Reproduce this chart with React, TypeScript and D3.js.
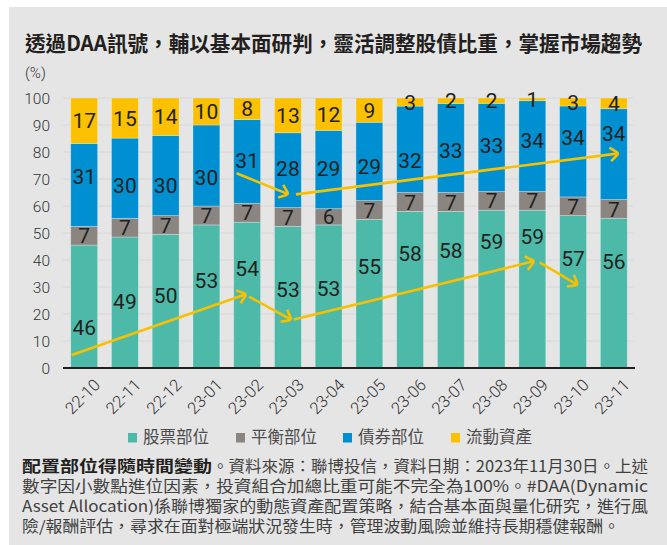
import React from 'react';
import * as d3 from 'd3';

const categories = ['22-10','22-11','22-12','23-01','23-02','23-03','23-04','23-05','23-06','23-07','23-08','23-09','23-10','23-11'];
const equity = [46,49,50,53,54,53,53,55,58,58,59,59,57,56];
const balanced = [7,7,7,7,7,7,6,7,7,7,7,7,7,7];
const bond = [31,30,30,30,31,28,29,29,32,33,33,34,34,34];
const cash = [17,15,14,10,8,13,12,9,3,2,2,1,3,4];
const yTicks = [0,10,20,30,40,50,60,70,80,90,100];
const seriesNames = ['股票部位','平衡部位','債券部位','流動資產'];

// label placement (in % units) for the manually placed labels of the original
const equityLabelAt = [15.2,24.6,27,32.4,37,29,29.4,37.5,42.6,43.4,46.8,48.6,40.7,39.4];
const bondLabelAt = [71,67.8,67.8,70.7,76.8,74,74,74.8,76.7,80.4,82.6,84.2,85.3,86.9];

// trend arrows, in (category index, %) units
const arrowsLower = [
  [[-0.307,4.81],[3.986,27.4]],
  [[4.05,26.4],[5.09,17.8]],
  [[5.146,18.0],[11.057,39.6]],
  [[11.18,39.1],[12.12,30.7]],
];
const arrowsUpper = [
  [[3.74,72.1],[5.02,64.3]],
  [[5.195,64.3],[13.125,79.5]],
];

const title = '透過DAA訊號，輔以基本面研判，靈活調整股債比重，掌握市場趨勢';
const noteBold = '配置部位得隨時間變動';
const noteLines = [
  '。資料來源：聯博投信，資料日期：2023年11月30日。上述',
  '數字因小數點進位因素，投資組合加總比重可能不完全為100%。#DAA(Dynamic',
  'Asset  Allocation)係聯博獨家的動態資產配置策略，結合基本面與量化研究，進行風',
  '險/報酬評估，尋求在面對極端狀況發生時，管理波動風險並維持長期穩健報酬。',
];

const COLORS = ['#4db9a8', '#8b8581', '#0090d2', '#fbc000'];
const BG = '#e5e5e5';
const ARROW = '#f9c000';
const CJK = "'Noto Sans CJK TC', 'Noto Sans', sans-serif";
const NUM = "'Liberation Sans Narrow', 'Roboto', sans-serif";

export default function App() {
  const x = d3.scaleBand<string>().domain(categories).range([63, 635]).paddingInner(0.34).paddingOuter(0.19);
  const y = d3.scaleLinear().domain([0, 100]).range([368, 98]);
  const bw = x.bandwidth();
  const xi = (i: number) => (x(categories[0]) as number) + bw / 2 + i * x.step();

  const keys = ['equity', 'balanced', 'bond', 'cash'];
  const raw = [equity, balanced, bond, cash];
  const rows = categories.map((c, i) => {
    const tot = equity[i] + balanced[i] + bond[i] + cash[i];
    const r: any = { cat: c };
    keys.forEach((k, j) => (r[k] = (raw[j][i] * 100) / tot));
    return r;
  });
  const stacked = d3.stack<any>().keys(keys)(rows);

  const arrowEl = (seg: number[][], key: string) => {
    const [p0, p1] = seg;
    const x0 = xi(p0[0]), y0 = y(p0[1]), x1 = xi(p1[0]), y1 = y(p1[1]);
    const ang = Math.atan2(y1 - y0, x1 - x0);
    const L = 11, A = (38 * Math.PI) / 180, g = 1.5;
    const w = (s: number) => {
      const a = ang + Math.PI + s * A;
      const sx = x1 + g * Math.cos(a), sy = y1 + g * Math.sin(a);
      return `M${sx},${sy}L${x1 + L * Math.cos(a)},${y1 + L * Math.sin(a)}`;
    };
    return (
      <g key={key}>
        <line x1={x0} y1={y0} x2={x1} y2={y1} stroke={ARROW} strokeWidth={2.6} />
        <path d={w(1) + w(-1)} stroke={ARROW} strokeWidth={2.6} fill="none" />
      </g>
    );
  };

  const legendX = [128, 236, 343, 451];

  return (
    <svg width={667} height={545} style={{ position: 'absolute', left: 0, top: 0 }}>
      <rect x={0} y={0} width={667} height={545} fill="#fff" />
      <rect x={9} y={7} width={658} height={538} fill={BG} />
      <text x={25} y={51} fontFamily={CJK} fontWeight={700} fontSize={21} fill="#231f20"
        textLength={617} lengthAdjust="spacingAndGlyphs">{title}</text>
      <text x={25} y={78} fontFamily="Roboto, sans-serif" fontWeight={300} fontSize={15} fill="#333">(%)</text>

      {yTicks.map((t) => (
        <g key={t}>
          {t > 0 && <line x1={63} x2={633} y1={y(t)} y2={y(t)} stroke="#d6d6d6" strokeWidth={1} />}
          <text x={50} y={y(t)} dy="0.36em" textAnchor="end" fontFamily="Roboto, sans-serif" fontWeight={300}
            fontSize={15.5} fill="#333">{t}</text>
        </g>
      ))}

      {stacked.map((s, j) => (
        <g key={s.key} fill={COLORS[j]}>
          {s.map((d, i) => (
            <rect key={i} x={x(categories[i])} y={y(d[1])} width={bw} height={y(d[0]) - y(d[1])}
              stroke="#ffffff" strokeOpacity={0.35} strokeWidth={0.8} />
          ))}
        </g>
      ))}

      <line x1={63} x2={635} y1={368} y2={368} stroke="#231f20" strokeWidth={2} />

      {categories.map((c, i) => (
        <text key={c} transform={`translate(${xi(i) + 17},386) rotate(-45)`} textAnchor="end"
          fontFamily="Roboto, sans-serif" fontWeight={300} fontSize={16.5} fill="#333">{c}</text>
      ))}

      {stacked.map((s, j) => (
        <g key={'l' + s.key}>
          {s.map((d, i) => {
            const v = raw[j][i];
            const at = j === 0 ? equityLabelAt[i] : j === 2 ? bondLabelAt[i] : (d[0] + d[1]) / 2;
            return (
              <text key={i} x={xi(i)} y={y(at)} dy="0.36em" textAnchor="middle" fontFamily={NUM}
                fontSize={21} fill="#231f20">{v}</text>
            );
          })}
        </g>
      ))}

      {arrowsLower.map((a, k) => arrowEl(a, 'lo' + k))}
      {arrowsUpper.map((a, k) => arrowEl(a, 'up' + k))}

      {seriesNames.map((n, j) => (
        <g key={n}>
          <rect x={legendX[j]} y={433} width={9} height={9.5} fill={COLORS[j]} />
          <text x={legendX[j] + 15} y={443} fontFamily={CJK} fontSize={16.5} fill="#4d4d4d">{n}</text>
        </g>
      ))}

      <text x={22} y={472} fontFamily={CJK} fontWeight={700} fontSize={15.5} fill="#231f20"
        textLength={190} lengthAdjust="spacingAndGlyphs">{noteBold}</text>
      {noteLines.map((l, k) => (
        <text key={k} x={k === 0 ? 212 : 22} y={472 + k * 20} fontFamily={CJK} fontSize={15.5} fill="#404040"
          textLength={k === 0 ? 436 : k === 3 ? 598 : 626} lengthAdjust="spacingAndGlyphs">{l}</text>
      ))}
    </svg>
  );
}
